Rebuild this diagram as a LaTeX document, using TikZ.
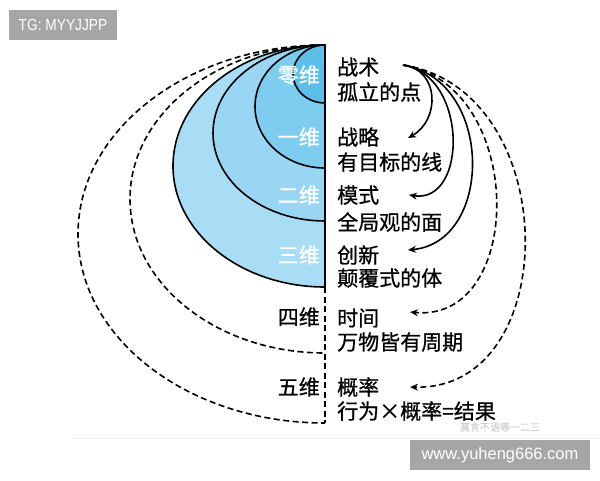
\documentclass[tikz,border=0pt]{standalone}
\usepackage{fontspec}
\usetikzlibrary{arrows.meta,positioning}
\newfontfamily\cjk[FakeBold=0.8]{Noto Sans CJK SC}
\newfontfamily\lat{Liberation Sans}
\newfontfamily\latn[FakeStretch=0.86]{Liberation Sans}
\definecolor{dimzero}{HTML}{5BBFEA}
\definecolor{dimone}{HTML}{7ECDF0}
\definecolor{dimtwo}{HTML}{98D6F3}
\definecolor{dimthree}{HTML}{A8DDF5}
\definecolor{taggray}{HTML}{A6A6A6}

\begin{document}
\begin{tikzpicture}[x=1pt,y=-1pt,
  dim/.style={font=\cjk\fontsize{21}{25}\selectfont,anchor=east,inner sep=0pt},
  txt/.style={font=\cjk\fontsize{21}{25}\selectfont,anchor=west,inner sep=0pt},
  lnk/.style={line width=1.6pt,-{Stealth[length=8pt,width=7pt]}},
  dsh/.style={line width=1.6pt,dash pattern=on 6pt off 3.5pt},
  tag/.style={fill=taggray,text=white,inner sep=0pt,minimum height=30pt}]
\useasboundingbox (0,0) rectangle (600,480);
\coordinate (O) at (325,45);
% nested half ellipses, outer first
\draw[dsh] (O) arc[start angle=90,end angle=270,x radius=247pt,y radius=189pt] coordinate (b5);
\draw[dsh] (O) arc[start angle=90,end angle=270,x radius=195pt,y radius=154pt] coordinate (b4);
\filldraw[fill=dimthree,line width=1.6pt] (O) arc[start angle=90,end angle=270,x radius=152pt,y radius=121pt] coordinate (b3) -- cycle;
\filldraw[fill=dimtwo,line width=1.6pt] (O) arc[start angle=90,end angle=270,x radius=112pt,y radius=88pt] coordinate (b2) -- cycle;
\filldraw[fill=dimone,line width=1.6pt] (O) arc[start angle=90,end angle=270,x radius=70pt,y radius=61.5pt] coordinate (b1) -- cycle;
\filldraw[fill=dimzero,line width=1.6pt] (O) arc[start angle=90,end angle=270,x radius=32pt,y radius=29pt] coordinate (b0) -- cycle;
\draw[dsh] (b3) -- (b5);
% dimension labels
\node[dim,text=white] (d0) at (320,75) {零维};
\node[dim,text=white] (d1) at (320,137) {一维};
\node[dim,text=white] (d2) at (320,195) {二维};
\node[dim,text=white] (d3) at (320,255) {三维};
\node[dim] (d4) at (320,317) {四维};
\node[dim] (d5) at (320,387) {五维};
% descriptions
\node[txt] (t0) at (337,67) {战术};
\node[txt] (s0) at (337,92) {孤立的点};
\node[txt] (t1) at (337,137) {战略};
\node[txt] (s1) at (337,162) {有目标的线};
\node[txt] (t2) at (337,195) {模式};
\node[txt] (s2) at (337,222) {全局观的面};
\node[txt] (t3) at (337,255) {创新};
\node[txt] (s3) at (337,278) {颠覆式的体};
\node[txt] (t4) at (337,318) {时间};
\node[txt] (s4) at (337,342) {万物皆有周期};
\node[txt] (t5) at (337,387) {概率};
\node[txt] (s5) at (337,411) {行为×概率=结果};
% arrows
\coordinate (src) at (403,65);
\coordinate (a1) at (408,138);
\coordinate (a2) at (409,195);
\coordinate (a3) at (408,250);
\coordinate (a4) at (410,312);
\coordinate (a5) at (410,387);
\draw[lnk] (src) .. controls (440,70) and (440,120) .. (a1);
\draw[lnk] (src) .. controls (468,75) and (468,204) .. (a2);
\draw[lnk] (src) .. controls (494,80) and (494,242) .. (a3);
\draw[lnk,dsh] (src) .. controls (526,85) and (526,323) .. (a4);
\draw[lnk,dsh] (src) .. controls (564,90) and (564,391) .. (a5);
% marks
\draw[gray!12] (72,438) -- (600,438);
\node[font=\cjk\fontsize{10}{10}\selectfont,text=gray!35] (wm) at (500,427) {莫言不语等一二三};
\node[tag,minimum width=108pt,font=\latn\fontsize{16}{16}\selectfont] (tg) at (63,25) {TG: MYYJJPP};
\node[tag,minimum width=180pt,font=\lat\fontsize{16.5}{16}\selectfont] (web) at (500,455) {www.yuheng666.com};
\end{tikzpicture}
\end{document}
